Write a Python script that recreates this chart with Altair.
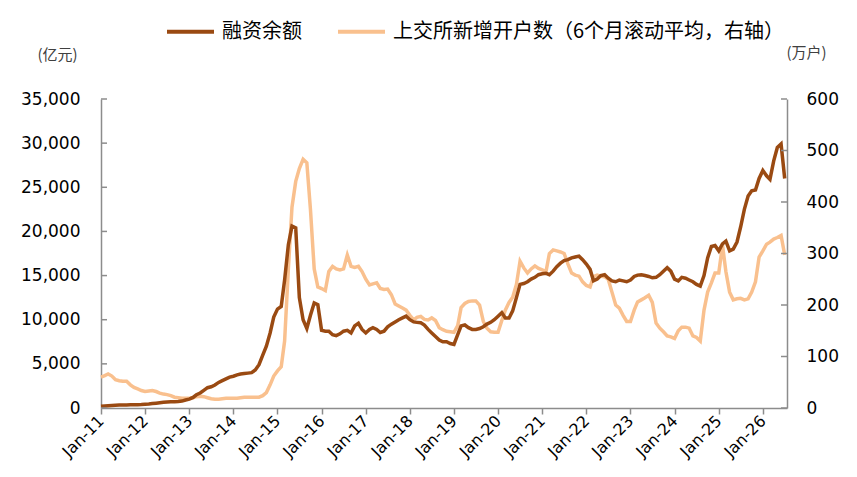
import altair as alt
import pandas as pd

# ---- data ----
NAME1 = "融资余额"
NAME2 = "上交所新增开户数（6个月滚动平均，右轴）"

months = pd.date_range("2011-01-01", periods=187, freq="MS").strftime("%Y-%m-%dT00:00:00").tolist()

margin = (
    [200, 230, 260, 290, 320, 330, 340, 350, 360, 370, 380, 390]            # 2011
    + [420, 450, 500, 550, 600, 650, 680, 700, 720, 740, 780, 900]          # 2012
    + [1000, 1200, 1500, 1700, 2000, 2300, 2400, 2600, 2900, 3100, 3300, 3500]  # 2013
    + [3600, 3750, 3850, 3900, 3950, 4000, 4300, 4900, 6000, 7000, 8500, 10300]  # 2014
    + [11200, 11500, 14500, 18500, 20600, 20400, 12500, 10000, 9000, 10500, 11900, 11700]  # 2015
    + [8800, 8700, 8700, 8300, 8200, 8400, 8700, 8800, 8500, 9300, 9600, 8900]  # 2016
    + [8500, 8900, 9100, 8900, 8550, 8700, 9200, 9500, 9750, 10000, 10200, 10400]  # 2017
    + [10000, 9750, 9700, 9650, 9400, 8900, 8500, 8100, 7700, 7500, 7500, 7300]  # 2018
    + [7200, 8300, 9300, 9400, 9100, 8900, 8900, 9000, 9200, 9500, 9700, 10000]  # 2019
    + [10400, 10800, 10200, 10200, 11000, 12500, 14000, 14100, 14300, 14600, 14800, 15100]  # 2020
    + [15200, 15250, 15100, 15500, 16000, 16400, 16700, 16800, 17000, 17100, 17200, 16800]  # 2021
    + [16300, 15700, 14400, 14600, 15000, 15100, 14700, 14400, 14300, 14500, 14400, 14300]  # 2022
    + [14500, 14900, 15050, 15100, 15000, 14900, 14750, 14800, 15100, 15500, 15900, 15500]  # 2023
    + [14600, 14400, 14800, 14700, 14500, 14300, 14000, 13800, 15000, 17000, 18300, 18400]  # 2024
    + [17800, 18600, 18900, 17800, 18000, 18800, 20500, 22500, 24000, 24600, 24700, 26000]  # 2025
    + [26900, 26300, 25900, 28000, 29500, 29900, 26000]                     # 2026
)

accounts = (
    [60, 63, 66, 62, 55, 53, 52, 52, 45, 40, 37, 34]                        # 2011
    + [32, 33, 34, 32, 29, 27, 26, 24, 21, 20, 19, 19]                      # 2012
    + [19, 20, 22, 23, 22, 20, 18, 17, 17, 18, 19, 19]                      # 2013
    + [19, 19, 20, 21, 21, 21, 21, 21, 24, 30, 45, 62]                      # 2014
    + [72, 80, 130, 270, 390, 440, 465, 483, 476, 385, 270, 235]            # 2015
    + [232, 228, 265, 275, 270, 268, 270, 297, 275, 273, 275, 265]          # 2016
    + [250, 239, 241, 243, 232, 230, 231, 220, 202, 198, 194, 190]          # 2017
    + [180, 171, 176, 178, 172, 171, 175, 170, 156, 152, 149, 148]          # 2018
    + [147, 160, 195, 203, 207, 208, 208, 200, 168, 155, 148, 147]          # 2019
    + [147, 170, 190, 205, 215, 240, 285, 272, 262, 270, 276, 271]          # 2020
    + [268, 265, 300, 307, 305, 303, 300, 280, 262, 258, 256, 245]          # 2021
    + [238, 235, 255, 258, 256, 255, 250, 225, 200, 194, 180, 168]          # 2022
    + [168, 190, 206, 210, 214, 219, 205, 165, 155, 148, 140, 138]          # 2023
    + [135, 150, 157, 157, 155, 140, 137, 130, 190, 225, 243, 262]          # 2024
    + [262, 316, 265, 225, 210, 212, 213, 210, 212, 225, 245, 293]          # 2025
    + [305, 318, 322, 328, 331, 335, 297]                                   # 2026
)

left_ticks = [0, 5000, 10000, 15000, 20000, 25000, 30000, 35000]
right_ticks = [0, 100, 200, 300, 400, 500, 600]
year_ticks = list(range(2011, 2027))

df_m = pd.DataFrame({"date": months, "value": margin, "series": NAME1})
df_a = pd.DataFrame({"date": months, "value": accounts, "series": NAME2})

# ---- styling ----
W, H = 686, 309
AXIS_GRAY = "#8c8c8c"
NUM_FONT = "DejaVu Sans"
CJK_FONT = "Noto Sans CJK SC"

color_scale = alt.Scale(domain=[NAME1, NAME2], range=["#9A4A12", "#F9C08E"])
legend = alt.Legend(
    orient="none", legendX=64, legendY=-93, direction="horizontal", title=None,
    symbolType="stroke", symbolSize=2209, symbolStrokeWidth=4,
    labelFontSize=20, labelFont=CJK_FONT, labelColor="#000000", labelLimit=0,
    columnPadding=28, labelOffset=6, padding=0,
)

x_enc = alt.X(
    "date:T",
    title=None,
    scale=alt.Scale(domain=[alt.DateTime(year=2011, month=1, date=1),
                            alt.DateTime(year=2026, month=7, date=20)]),
    axis=alt.Axis(
        values=[alt.DateTime(year=y, month=1, date=1) for y in year_ticks],
        format="%b-%y", labelAngle=-45, labelAlign="right", labelBaseline="middle",
        labelFontSize=16, labelFont=NUM_FONT, labelColor="#000000", labelPadding=4,
        tickSize=6, tickColor=AXIS_GRAY, tickWidth=1.5,
        domainColor=AXIS_GRAY, domainWidth=1.5, grid=False, labelFlush=False,
        labelOverlap=False,
    ),
)

left_scale = alt.Scale(domain=[0, 35000], nice=False)
right_scale = alt.Scale(domain=[0, 600], nice=False)

acc_line = alt.Chart(df_a).mark_line(strokeWidth=3.5).encode(
    x=x_enc,
    y=alt.Y("value:Q", scale=right_scale, axis=alt.Axis(
        orient="right", values=right_ticks, format=".0f", ticks=False,
        labelFontSize=17, labelFont=NUM_FONT, labelColor="#000000", labelPadding=19,
        domainColor=AXIS_GRAY, domainWidth=1.5, grid=False,
        title="(万户)", titleAngle=0, titleX=19, titleY=-47, titleAlign="center",
        titleBaseline="middle", titleFontSize=15, titleFontWeight="normal",
        titleFont=CJK_FONT, titleColor="#404040",
    )),
    color=alt.Color("series:N", scale=color_scale, legend=legend),
)

margin_line = alt.Chart(df_m).mark_line(strokeWidth=3.5).encode(
    x=x_enc,
    y=alt.Y("value:Q", scale=left_scale, axis=alt.Axis(
        orient="left", values=left_ticks, format=",.0f", ticks=False,
        labelFontSize=17, labelFont=NUM_FONT, labelColor="#000000", labelPadding=21,
        domainColor=AXIS_GRAY, domainWidth=1.5, grid=False,
        title="(亿元)", titleAngle=0, titleX=-44, titleY=-45, titleAlign="center",
        titleBaseline="middle", titleFontSize=15, titleFontWeight="normal",
        titleFont=CJK_FONT, titleColor="#404040",
    )),
    color=alt.Color("series:N", scale=color_scale, legend=legend),
)

left_tick_layer = alt.Chart(pd.DataFrame({"v": left_ticks})).mark_rule(
    color=AXIS_GRAY, strokeWidth=1.5
).encode(
    y=alt.Y("v:Q", scale=left_scale, axis=None),
    x=alt.value(0), x2=alt.value(6),
)

right_tick_layer = alt.Chart(pd.DataFrame({"v": right_ticks})).mark_rule(
    color=AXIS_GRAY, strokeWidth=1.5
).encode(
    y=alt.Y("v:Q", scale=right_scale, axis=None),
    x=alt.value(W - 6), x2=alt.value(W),
)

chart = (
    alt.layer(acc_line, margin_line, left_tick_layer, right_tick_layer)
    .resolve_scale(y="independent")
    .properties(
        width=W, height=H,
        autosize=alt.AutoSizeParams(type="none"),
        padding={"left": 93, "top": 91, "right": 55, "bottom": 60},
        background="#ffffff",
    )
    .configure_view(stroke=None)
)

chart.save("out.html", embed_options={"renderer": "svg", "actions": False})
